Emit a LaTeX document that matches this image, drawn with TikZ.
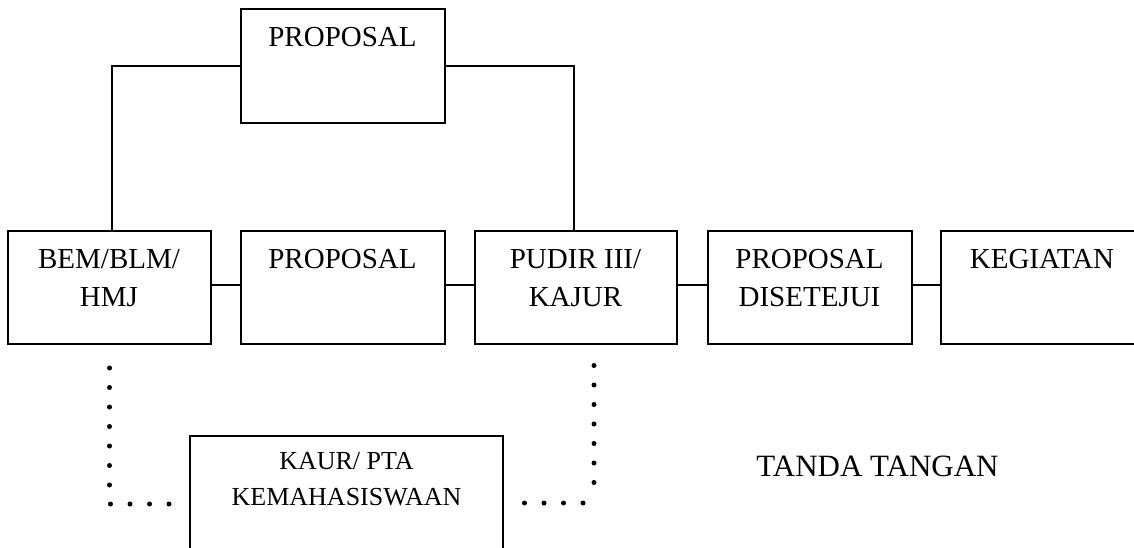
\documentclass[tikz,border=0pt]{standalone}
\usepackage{fontspec}
\setmainfont{Liberation Serif}
\begin{document}
\begin{tikzpicture}[x=1pt,y=-1pt,
  box/.style={draw, line width=2pt, minimum width=203pt, minimum height=113.5pt, inner sep=0pt},
  lbl/.style={anchor=north, inner sep=0pt, align=center, font=\fontsize{29}{38}\selectfont, yshift=-19pt},
  smalllbl/.style={anchor=north, inner sep=0pt, align=center, font=\fontsize{26}{36}\selectfont, yshift=-17pt},
  link/.style={line width=2pt},
  dotline/.style={line width=5pt, line cap=round, dash pattern=on 0pt off 19.5pt}
]
\useasboundingbox (0,0) rectangle (1134,548);

% process boxes
\node[box, minimum width=204pt, minimum height=114pt, label={[lbl]north:PROPOSAL}] (top) at (342.5,66) {};
\node[box, label={[lbl]north:{BEM/BLM/\\HMJ}}] (bem) at (109,287.5) {};
\node[box, minimum width=204pt, label={[lbl]north:PROPOSAL}] (prop) at (342.5,287.5) {};
\node[box, minimum width=202pt, label={[lbl]north:{PUDIR III/\\KAJUR}}] (pudir) at (575.5,287.5) {};
\node[box, minimum width=204pt, label={[lbl]north:{PROPOSAL\\DISETEJUI}}] (dis) at (809.5,287.5) {};
\node[box, label={[lbl]north:KEGIATAN}] (keg) at (1042,287.5) {};
\node[box, minimum width=313pt, minimum height=114pt, label={[smalllbl]north:{KAUR/ PTA\\KEMAHASISWAAN}}] (kaur) at (346.5,493) {};

\node[anchor=base, inner sep=0pt, font=\fontsize{31}{36}\selectfont] (ttd) at (877.5,476) {TANDA TANGAN};

% solid connectors
\draw[link] (top.west) -| ([xshift=3pt]bem.north);
\draw[link] (top.east) -| ([xshift=-1.5pt]pudir.north);
\draw[link] ([yshift=2.5pt]bem.east) -- ([yshift=2.5pt]prop.west);
\draw[link] ([yshift=2.5pt]prop.east) -- ([yshift=2.5pt]pudir.west);
\draw[link] ([yshift=2.5pt]pudir.east) -- ([yshift=2.5pt]dis.west);
\draw[link] ([yshift=2.5pt]dis.east) -- ([yshift=2.5pt]keg.west);

% dotted signature routes
\coordinate (la) at (109.5,368);
\coordinate (lb) at (109.5,486);
\coordinate (lc) at (110.5,504);
\coordinate (ld) at (170,504);
\coordinate (ra) at (524.5,503);
\coordinate (rb) at (584,503);
\coordinate (rc) at (594,482.5);
\coordinate (rd) at (594,364.5);
\draw[dotline] (la) -- (lb);
\draw[dotline] (lc) -- (ld);
\draw[dotline] (ra) -- (rb);
\draw[dotline] (rc) -- (rd);
\end{tikzpicture}
\end{document}
